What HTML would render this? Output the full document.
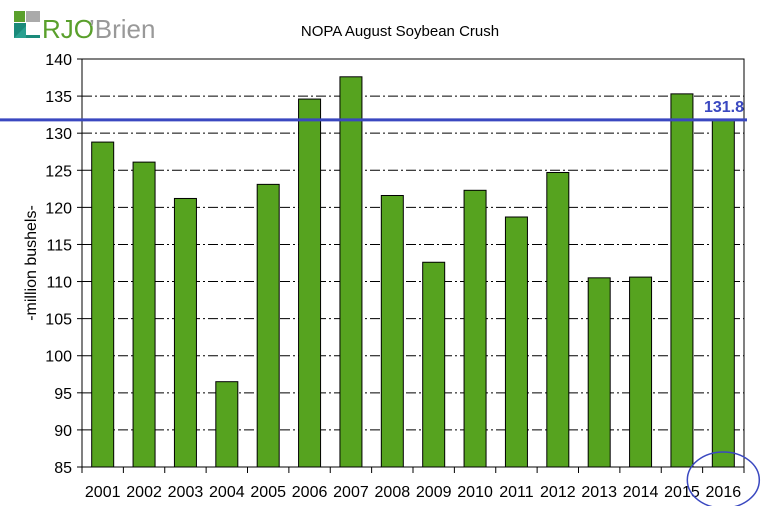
<!DOCTYPE html>
<html><head><meta charset="utf-8"><style>
body{margin:0;background:#fff;}
svg{display:block;font-family:"Liberation Sans",Arial,sans-serif;}
</style></head><body>
<svg id="chart" width="771" height="506">
<g>
<rect x="14" y="11" width="11" height="11" fill="#5aa02c"/>
<rect x="26" y="11" width="14" height="11" fill="#aaa"/>
<polygon points="14,23 26,23 26,35 40,35 40,23 40,38 14,38" fill="#1a8a7a"/>
<polygon points="14,38 26,26 26,38" fill="#2aa090"/>
<text x="42" y="38" font-size="26" fill="#5aa02c">RJO</text>
<text x="89" y="38" font-size="26" fill="#999">’Brien</text>
</g>
<text x="400" y="36" font-size="15" text-anchor="middle">NOPA August Soybean Crush</text>
<text transform="translate(36,263) rotate(-90)" font-size="16" text-anchor="middle">-million bushels-</text>
<g id="grid"></g><g id="bars"></g><g id="axes"></g>
</svg>
<script>
const categories=["2001","2002","2003","2004","2005","2006","2007","2008","2009","2010","2011","2012","2013","2014","2015","2016"];
const values=[128.8,126.1,121.2,96.5,123.1,134.6,137.6,121.6,112.6,122.3,118.7,124.7,110.5,110.6,135.3,131.8];
const yTicks=[85,90,95,100,105,110,115,120,125,130,135,140];
const refValue=131.8;
const L=82,R=744,T=59,B=467,ymin=85,ymax=140;
const y=v=>B-(v-ymin)/(ymax-ymin)*(B-T);
const slot=(R-L)/categories.length;
const x=i=>L+slot*i;
const NS="http://www.w3.org/2000/svg";
const svg=document.getElementById('chart');
function mk(tag,attrs,parent){const e=document.createElementNS(NS,tag);for(const k in attrs)e.setAttribute(k,attrs[k]);(parent||svg).appendChild(e);return e;}
const grid=document.getElementById('grid'),bars=document.getElementById('bars'),axes=document.getElementById('axes');
yTicks.forEach(t=>{
 if(t>ymin&&t<ymax){const g=mk('line',{x1:L,x2:R,y1:y(t),y2:y(t),stroke:'#000','stroke-width':1,'stroke-dasharray':'10,3,2,3'},grid);
 
 }
 const tk=mk('line',{x1:L-5,x2:L,y1:y(t),y2:y(t),stroke:'#000'},axes);
 
 
 const lb=mk('text',{x:L-10,y:y(t)+6,'font-size':16,'text-anchor':'end'},axes);lb.textContent=t;
 
 
});
values.forEach((v,i)=>{
 const b=mk('rect',{x:x(i)+slot/2-11,y:y(v),width:22,height:B-y(v),fill:'#56a31f',stroke:'#000','stroke-width':1},bars);
 
 
 const lb=mk('text',{x:x(i)+slot/2,y:497,'font-size':16,'text-anchor':'middle'},axes);lb.textContent=categories[i];
 
 
});
for(let i=0;i<=categories.length;i++){const tk=mk('line',{x1:x(i),x2:x(i),y1:B,y2:B+6,stroke:'#000'},axes);
 
 }
const frame=mk('rect',{x:L,y:T,width:R-L,height:B-T,fill:'none',stroke:'#000','stroke-width':1},axes);


const rl=mk('line',{x1:0,x2:747,y1:y(refValue),y2:y(refValue),stroke:'#3a48c0','stroke-width':3},axes);


const rt=mk('text',{x:744,y:y(refValue)-8,'font-size':16,'font-weight':'bold',fill:'#3a48c0','text-anchor':'end'},axes);rt.textContent=refValue;


const c=mk('ellipse',{cx:x(categories.length-1)+slot/2,cy:480,rx:36,ry:28,fill:'none',stroke:'#3a48c0','stroke-width':1.5},axes);


</script>
</body></html>
